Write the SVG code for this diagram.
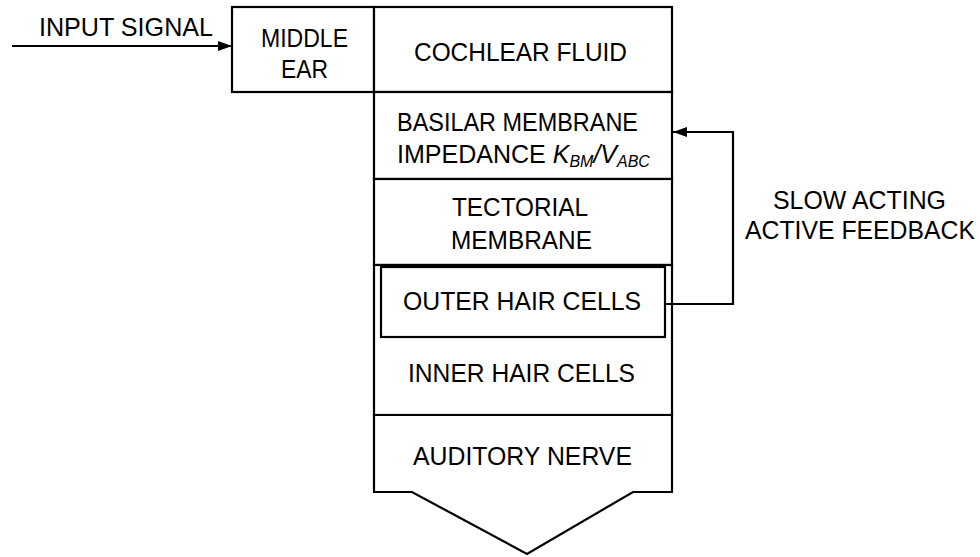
<svg xmlns="http://www.w3.org/2000/svg" width="980" height="557" viewBox="0 0 980 557">
<style>
.box{fill:#fff;stroke:#000;stroke-width:2.2}
.ln{fill:none;stroke:#000;stroke-width:2.2}
text{font-family:"Liberation Sans",Arial,Helvetica,sans-serif;font-size:25px;fill:#000;text-anchor:middle}
.it{font-style:italic}
.sub{font-size:16px;font-style:italic}
</style>
<defs>
<marker id="ah" markerWidth="14" markerHeight="10" refX="14" refY="5" orient="auto" markerUnits="userSpaceOnUse">
<path d="M0,0 L14,5 L0,10 Z" fill="#000"/>
</marker>
</defs>
<g id="middle-ear">
<rect class="box" x="232" y="7" width="142" height="85"/>
<text x="304.5" y="47" textLength="87" lengthAdjust="spacingAndGlyphs">MIDDLE</text>
<text x="304.5" y="78" textLength="47" lengthAdjust="spacingAndGlyphs">EAR</text>
</g>
<g id="cochlear-fluid">
<rect class="box" x="374" y="7" width="298" height="85"/>
<text x="520.5" y="61" textLength="213" lengthAdjust="spacingAndGlyphs">COCHLEAR FLUID</text>
</g>
<g id="basilar-membrane">
<rect class="box" x="374" y="92" width="298" height="87"/>
<text x="517.5" y="131" textLength="241" lengthAdjust="spacingAndGlyphs">BASILAR MEMBRANE</text>
<text x="523.5" y="163">IMPEDANCE <tspan class="it">K</tspan><tspan class="sub" dy="4">BM</tspan><tspan class="it" dy="-4">/V</tspan><tspan class="sub" dy="4">ABC</tspan></text>
</g>
<g id="tectorial-membrane">
<rect class="box" x="374" y="179" width="298" height="86"/>
<text x="520" y="216" textLength="136" lengthAdjust="spacingAndGlyphs">TECTORIAL</text>
<text x="521.5" y="249" textLength="141" lengthAdjust="spacingAndGlyphs">MEMBRANE</text>
</g>
<g id="inner-hair-cells">
<rect class="box" x="374" y="265" width="298" height="150"/>
<text x="521.5" y="382" textLength="227" lengthAdjust="spacingAndGlyphs">INNER HAIR CELLS</text>
</g>
<g id="outer-hair-cells">
<rect class="box" x="381" y="267" width="284" height="70"/>
<text x="522" y="310" textLength="238" lengthAdjust="spacingAndGlyphs">OUTER HAIR CELLS</text>
</g>
<g id="auditory-nerve">
<path class="box" d="M374,415 L672,415 L672,492 L633,492 L527,554 L412,492 L374,492 Z"/>
<text x="522.5" y="465" textLength="219" lengthAdjust="spacingAndGlyphs">AUDITORY NERVE</text>
</g>
<g id="labels">
<text x="126" y="36" textLength="174" lengthAdjust="spacingAndGlyphs">INPUT SIGNAL</text>
<text x="859.5" y="209" textLength="173" lengthAdjust="spacingAndGlyphs">SLOW ACTING</text>
<text x="860" y="239" textLength="230" lengthAdjust="spacingAndGlyphs">ACTIVE FEEDBACK</text>
</g>
<g id="connectors">
<path class="ln" d="M12,46 L232,46" marker-end="url(#ah)"/>
<path class="ln" d="M665,304 L733,304 L733,132 L673,132" marker-end="url(#ah)"/>
</g>
</svg>
